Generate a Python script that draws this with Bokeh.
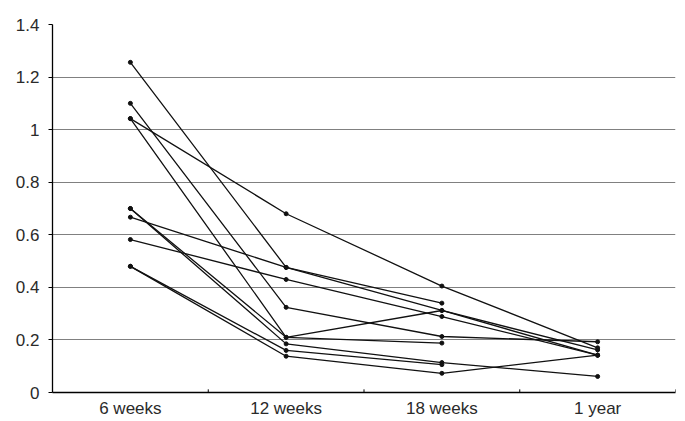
import math
from bokeh.plotting import figure
from bokeh.models import Range1d, FixedTicker
from bokeh.embed import file_html
from bokeh.resources import INLINE

categories = ["6 weeks", "12 weeks", "18 weeks", "1 year"]
nan = float("nan")
series = [
    [1.256, 0.476, 0.340, nan],
    [1.100, 0.324, 0.213, 0.193],
    [1.042, 0.680, 0.405, 0.170],
    [1.042, 0.210, 0.312, 0.142],
    [0.700, 0.210, 0.188, nan],
    [0.700, 0.185, 0.114, 0.061],
    [0.667, 0.476, 0.312, 0.162],
    [0.582, 0.430, 0.289, 0.142],
    [0.480, 0.160, 0.106, nan],
    [0.480, 0.138, 0.073, 0.142],
]
y_ticks = [0, 0.2, 0.4, 0.6, 0.8, 1.0, 1.2, 1.4]
y_labels = ["0", "0.2", "0.4", "0.6", "0.8", "1", "1.2", "1.4"]

xs = [i + 0.5 for i in range(len(categories))]

p = figure(width=683, height=421, output_backend="svg", toolbar_location=None,
           x_range=Range1d(0, len(categories)), y_range=Range1d(0, 1.4),
           min_border_left=52, min_border_right=8, min_border_top=24, min_border_bottom=29)
p.outline_line_color = None
p.background_fill_color = "white"

font = "Liberation Sans"
# x axis
p.xaxis.ticker = FixedTicker(ticks=xs)
p.xaxis.major_label_overrides = {x: c for x, c in zip(xs, categories)}
p.xaxis.major_tick_in = 0
p.xaxis.major_tick_out = 0
p.xaxis.minor_tick_line_color = None
p.xaxis.axis_line_color = "black"
p.xaxis.axis_line_width = 1.3
p.xaxis.major_label_text_font = font
p.xaxis.major_label_text_font_size = "17px"
p.xaxis.major_label_text_color = "#2a2a2a"
p.xaxis.major_label_standoff = 6
p.xgrid.visible = False

# y axis
p.yaxis.ticker = FixedTicker(ticks=y_ticks)
p.yaxis.major_label_overrides = {t: l for t, l in zip(y_ticks, y_labels)}
p.yaxis.major_tick_in = 0
p.yaxis.major_tick_out = 4
p.yaxis.minor_tick_line_color = None
p.yaxis.axis_line_color = "black"
p.yaxis.axis_line_width = 1.3
p.yaxis.major_label_text_font = font
p.yaxis.major_label_text_font_size = "17px"
p.yaxis.major_label_text_color = "#2a2a2a"
p.yaxis.major_label_standoff = 9
p.ygrid.ticker = FixedTicker(ticks=y_ticks[1:-1])
p.ygrid.grid_line_color = "#808080"
p.ygrid.grid_line_width = 1

# separator ticks between categories on the x axis
sep = list(range(1, len(categories) + 1))
p.segment(x0=sep, y0=[0] * len(sep), x1=sep, y1=[0.012] * len(sep), line_color="black", line_width=1)

for s in series:
    p.line(xs, s, line_color="#111111", line_width=1.3)
    pts = [(x, v) for x, v in zip(xs, s) if not math.isnan(v)]
    p.scatter([a for a, _ in pts], [b for _, b in pts], size=4, color="#111111")

open("out.html", "w").write(file_html(p, INLINE))
